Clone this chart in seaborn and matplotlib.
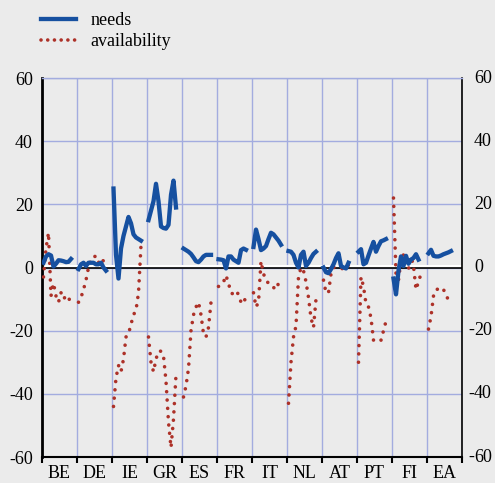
import numpy as np
import pandas as pd
import matplotlib
matplotlib.use('Agg')
import matplotlib.pyplot as plt
from matplotlib.lines import Line2D
import seaborn as sns

countries = ['BE', 'DE', 'IE', 'GR', 'ES', 'FR', 'IT', 'NL', 'AT', 'PT', 'FI', 'EA']
nan = np.nan

# needs, one value per period (12 periods per country)
needs_be = [1.5, 3.5, 4.2, 3.8, 0.3, 1.2, 2.3, 2.2, 2.0, 1.7, 1.8, 2.7]
needs_de = [-0.5, 1, 1.5, 0.5, 1.5, 1.5, 1.5, 1, 1, 1.5, 0, -1]
needs_ie = [25, 4, -3.5, 6, 10, 13, 16, 14, 10.5, 9.5, 9, 8.5]
needs_gr = [15, 18, 21, 26.5, 21, 13, 12.5, 12.3, 13.5, 23, 27.5, 19]
needs_es = [6, 5.5, 5, 4.3, 3.2, 2, 1.7, 2.5, 3.5, 4, 4, 4]
needs_fr = [2.6, 2.5, 2.3, -0.3, 3.5, 3.5, 2.5, 2, 1.5, 5.5, 6, 5.6]
needs_it = [6.5, 12, 9, 5.5, 6, 6.8, 9, 11, 10.5, 9.5, 8.5, 7.2]
needs_nl = [5.2, 5, 4, 1.5, 0, 4, 5, 0.5, 1.5, 3, 4.3, 5]
needs_at = [0, -1.5, -1.8, -0.5, 1, 3, 4.5, 0.5, 0, -0.3, 1.5, nan]
needs_pt = [5, 5.8, 1, 1.5, 3.8, 6, 8.1, 5, 6.8, 8.3, 8.6, 9]
needs_fi = [-3.5, -8.5, -1, 3.5, 0.5, 3.7, 1.2, 2.5, 3, 4.2, 2.5, nan]
needs_ea = [4.5, 5.6, 3.7, 3.5, 3.5, 3.8, 4.2, 4.5, 4.8, 5.2, nan, nan]

# availability
avail_be = [-3, 6, 11, -9, -5, -9, -11, -8, -10, -9, -9, -12.5]
avail_de = [-11, -9.5, -7, -4, 0, 2.5, 3.5, 3.5, 1.5, 3, 2, 1]
avail_ie = [-44, -35, -31, -33, -29, -22, -21, -18, -15, -13.5, -8, 7]
avail_gr = [-22, -30, -33, -29, -26.5, -26.5, -28, -36, -49, -57, -48, -34]
avail_es = [-41, -37.5, -32, -20, -15, -12.5, -11, -15, -21, -22, -19, -11]
avail_fr = [-6, -5.5, -4.6, -2.5, -5, -8, -8.5, -7.5, -8.5, -11, -11.5, -9]
avail_it = [-8, -12.5, -11, 2, -2, -4, -5, -6, -6.3, -7, -5, -3]
avail_nl = [-43, -30, -22, -18.5, -3, 0, -1, -4.5, -9.5, -16, -19, -10]
avail_at = [-4, -8, -8, -2, 0, 0, -0.2, -0.3, -0.4, -0.5, 0.8, 2]
avail_pt = [-30, -3, -6, -11.5, -12.5, -16, -23, -23.3, -23.5, -23, -20, -17]
avail_fi = [22, -2, -4, 2.5, 4, 3, -0.5, 3.5, 0.5, -7, -4.5, -2]
avail_ea = [-19.5, -15.5, -9, -7, -6.8, -6.3, -7, -8.5, -10.5, -12, nan, nan]

needs = [needs_be, needs_de, needs_ie, needs_gr, needs_es, needs_fr,
         needs_it, needs_nl, needs_at, needs_pt, needs_fi, needs_ea]
avail = [avail_be, avail_de, avail_ie, avail_gr, avail_es, avail_fr,
         avail_it, avail_nl, avail_at, avail_pt, avail_fi, avail_ea]

# each country gets one unit of the x axis, periods spread inside it
start, step = 1.5 / 35, 2.5 / 35
rows = []
for i, c in enumerate(countries):
    for k in range(12):
        rows.append({'country': c, 'x': i + start + k * step,
                     'needs': needs[i][k], 'availability': avail[i][k]})
df = pd.DataFrame(rows)

blue = '#1650a0'
red = '#ad3128'
grid_col = '#a3acdf'
bg = '#ebebeb'
dots = (0, (0.01, 2.3))

plt.rcParams['font.family'] = ['Liberation Serif', 'DejaVu Serif']
plt.rcParams['axes.unicode_minus'] = False

fig = plt.figure(figsize=(4.95, 4.83), dpi=100, facecolor=bg)
ax = fig.add_axes([42 / 495, 1 - 457 / 483, 420 / 495, 379 / 483])
ax.set_facecolor(bg)

sns.lineplot(data=df.dropna(subset=['availability']), x='x', y='availability',
             units='country', estimator=None, sort=False, color=red, lw=2.6,
             linestyle=dots, dash_capstyle='round', ax=ax, legend=False, zorder=3)
sns.lineplot(data=df.dropna(subset=['needs']), x='x', y='needs',
             units='country', estimator=None, sort=False, color=blue, lw=3.1,
             ax=ax, legend=False, zorder=4)

ax.axhline(0.45, color='white', lw=2.2, zorder=1.5)
ax.axhline(-0.25, color='black', lw=1.2, zorder=1.6)

ax.set_xlim(0, 12)
ax.set_ylim(-60, 60)
ax.set_xlabel('')
ax.set_ylabel('')

yt = list(range(-60, 61, 20))
ax.set_yticks(yt)
ax.set_yticklabels([str(v) for v in yt])
ax.set_xticks(range(13))
ax.set_xticklabels([])
ax.set_xticks(np.arange(12) + 0.5, minor=True)
ax.set_xticklabels(countries, minor=True)
ax.grid(True, which='major', color=grid_col, lw=1, zorder=0.5)
ax.set_axisbelow(True)

ax.tick_params(axis='y', length=0, pad=6.5, labelsize=13)
ax.tick_params(axis='x', which='major', direction='out', length=4, width=1.5,
               color='black')
ax.tick_params(axis='x', which='minor', length=0, pad=6, labelsize=13)

for v in yt:
    ax.annotate(str(abs(v)), xy=(1, v), xycoords=('axes fraction', 'data'),
                xytext=(12, 0), textcoords='offset pixels', ha='left',
                va='center', fontsize=13)
    if v < 0:
        ax.annotate('-', xy=(1, v), xycoords=('axes fraction', 'data'),
                    xytext=(12, 0), textcoords='offset pixels', ha='right',
                    va='center', fontsize=13)

ax.spines['left'].set_linewidth(2)
ax.spines['right'].set_linewidth(1.2)
ax.spines['bottom'].set_linewidth(1.5)
ax.spines['top'].set_color(grid_col)
ax.spines['top'].set_linewidth(1)
for s in ['left', 'right', 'bottom']:
    ax.spines[s].set_color('black')

handles = [Line2D([], [], color=blue, lw=3.1),
           Line2D([], [], color=red, lw=2.6, linestyle=(0, (0.01, 1.85)),
                  dash_capstyle='round')]
fig.legend(handles, ['needs', 'availability'], loc='upper left',
           bbox_to_anchor=(41 / 495, 1 - 12 / 483), frameon=False,
           fontsize=13, handlelength=1.95, handletextpad=0.8,
           labelspacing=0.22, borderpad=0, borderaxespad=0)

fig.savefig('out.png', dpi=100, facecolor=bg)
